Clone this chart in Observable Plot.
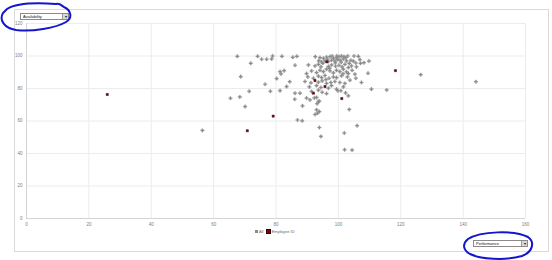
<!DOCTYPE html>
<html>
<head>
<meta charset="utf-8">
<script src="https://cdn.jsdelivr.net/npm/d3@7"></script>
<script src="https://cdn.jsdelivr.net/npm/@observablehq/plot@0.6"></script>
<style>
  html, body { margin: 0; padding: 0; background: #fff; }
  #wrap { position: relative; width: 552px; height: 260px; font-family: "Liberation Sans", Arial, sans-serif; }
  #chart svg { display: block; overflow: visible; }
  .dd { position: absolute; height: 5px; border: 1px solid #8a8a8a; background: #fff; font-size: 4px; line-height: 5px; color: #111; padding-left: 2px; box-sizing: content-box; white-space: nowrap; }
  .dd .btn { position: absolute; right: 0; top: 0; width: 5px; height: 5px; background: #d8d8d8; border-left: 1px solid #999; font-size: 4px; line-height: 5px; text-align: center; }
  #legend { position: absolute; left: 255px; top: 229px; font-size: 4px; color: #666; white-space: nowrap; }
  #legend span.sw { display: inline-block; width: 3px; height: 3px; margin-right: 1px; vertical-align: middle; }
  #overlay { position: absolute; left: 0; top: 0; pointer-events: none; }
</style>
</head>
<body>
<div id="wrap">
  <div id="chart"></div>
  <div class="dd" style="left:20px; top:13px; width:45px;">Availability<div class="btn">▾</div></div>
  <div class="dd" style="left:473px; top:240px; width:51px;">Performance<div class="btn">▾</div></div>
  <div id="legend"><span class="sw" style="background:#8a8a8a"></span>All&nbsp;&nbsp;<span class="sw" style="background:#8b0000;border:0.5px solid #300"></span>Employee ID</div>
</div>
<script>
// Tick labels
const xTicks = [0, 20, 40, 60, 80, 100, 120, 140, 160];
const yTicks = [0, 20, 40, 60, 80, 100, 120];

// Series "All": Performance (x) and Availability (y)
const allPerformance = [
  67.6, 74.1, 75.4, 77.0, 78.6, 78.9, 81.9, 71.9, 68.7, 71.4, 65.4, 68.4, 70.1, 56.4,
  81.3, 82.6, 81.6, 80.2, 76.5, 78.2, 81.3, 83.4, 84.4, 86.0, 88.5, 86.9, 88.4, 92.3,
  93.2, 93.9, 93.0, 93.9, 92.5, 93.3, 93.9, 94.4, 103.5, 106.0, 101.9, 102.0, 104.4,
  107.1, 108.2, 109.8, 109.5, 126.4, 144.1, 110.6, 115.5, 85.4, 86.7, 86.1, 86.1, 87.7,
  92.6, 94.1, 95.2, 96.2, 97.3, 98.4, 99.4, 100.2, 101.0, 101.8, 102.4, 103.0, 105.0,
  106.4, 106.9, 93.7, 94.6, 95.7, 96.8, 97.8, 98.9, 99.8, 100.6, 101.6, 102.6, 104.0,
  105.6, 90.4, 92.5, 93.6, 94.4, 96.8, 97.8, 99.1, 100.2, 101.2, 102.1, 103.2, 104.2,
  105.8, 89.8, 91.4, 93.0, 94.1, 95.2, 96.2, 97.3, 98.4, 99.4, 100.5, 101.6, 102.6,
  104.4, 105.3, 90.2, 92.0, 93.6, 94.6, 95.7, 97.0, 98.4, 99.4, 101.0, 102.9, 105.6,
  103.2, 89.3, 91.2, 93.6, 94.8, 96.2, 97.6, 98.9, 100.5, 102.1, 103.7, 107.4, 90.7,
  93.0, 94.4, 96.8, 97.8, 99.4, 101.6, 91.4, 93.6, 94.8, 96.2, 99.8, 100.8, 102.3,
  89.8, 90.9, 93.0, 93.6, 103.2, 96.5, 99.0, 100.9, 97.2, 103.5, 98.0, 99.5, 95.0,
  101.5, 96.0, 104.8
];
const allAvailability = [
  99.8, 99.8, 98.0, 98.0, 98.2, 100, 99.8, 95.5, 87.3, 78.3, 74.0, 74.8, 68.9, 54.2,
  90.4, 91.0, 89.0, 86.1, 82.6, 78.3, 78.7, 81.2, 84.2, 73.4, 69.3, 60.6, 60.1, 74.2,
  70.7, 72.2, 66.9, 65.8, 64.0, 64.8, 56.0, 50.5, 67.1, 57.1, 52.6, 42.3, 42.1,
  95.5, 95.9, 96.9, 89.4, 88.5, 84.2, 79.6, 79.1, 99.2, 99.8, 94.3, 77.1, 77.1,
  99.6, 99.0, 98.6, 99.4, 99.6, 98.6, 99.0, 99.6, 100, 99.6, 99.0, 100, 100,
  99.8, 97.8, 97.0, 96.4, 97.0, 96.6, 97.4, 97.0, 97.8, 97.4, 98.2, 97.0, 97.4,
  95.7, 94.5, 93.9, 94.9, 93.3, 93.5, 94.5, 93.7, 94.3, 93.3, 94.9, 92.9, 93.9,
  93.3, 89.2, 90.8, 89.8, 91.2, 90.4, 91.9, 90.8, 89.6, 91.2, 90.4, 91.9, 90.2,
  91.2, 88.8, 87.1, 86.3, 87.6, 86.7, 88.0, 86.3, 87.1, 86.7, 87.8, 87.1, 86.3,
  89.2, 84.3, 83.5, 83.9, 84.7, 83.1, 83.7, 84.3, 83.7, 83.1, 85.1, 83.7, 81.0,
  81.8, 80.6, 80.2, 81.8, 79.6, 81.0, 78.2, 79.0, 77.7, 76.9, 78.6, 78.6, 77.3,
  74.1, 73.0, 74.5, 72.0, 75.5, 98.0, 95.8, 96.2, 92.4, 95.5, 100, 100, 95.5,
  89.0, 85.5, 96.8
];

// Series "Employee ID"
const empPerformance = [25.9, 70.8, 79.1, 101.1, 118.3, 96.3, 92.5, 95.7, 92.0];
const empAvailability = [76.3, 54.0, 63.0, 73.8, 91.0, 96.4, 84.9, 81.2, 77.1];

const allData = allPerformance.map((p, i) => ({performance: p, availability: allAvailability[i]}));
const empData = empPerformance.map((p, i) => ({performance: p, availability: empAvailability[i]}));

const chart = Plot.plot({
  width: 552,
  height: 260,
  marginLeft: 26,
  marginRight: 27,
  marginTop: 23,
  marginBottom: 42,
  style: {background: "transparent", fontFamily: "Liberation Sans, Arial, sans-serif"},
  x: {domain: [0, 160], label: null},
  y: {domain: [0, 120], label: null},
  marks: [
    Plot.gridX(xTicks, {stroke: "#ececec", strokeOpacity: 1}),
    Plot.gridY(yTicks, {stroke: "#ececec", strokeOpacity: 1}),
    Plot.ruleY([0], {stroke: "#d4d4d4"}),
    Plot.ruleX([0], {stroke: "#d4d4d4"}),
    Plot.axisX(xTicks, {tickSize: 0, tickPadding: 4, fontSize: 4.5, color: "#808080", label: null}),
    Plot.axisY(yTicks, {tickSize: 0, tickPadding: 4, fontSize: 4.5, color: "#808080", label: null}),
    Plot.dot(allData, {x: "performance", y: "availability", symbol: "cross", r: 1.5, fill: "#8a8a8a", stroke: "#a0a0a0", strokeWidth: 0.3}),
    Plot.dot(empData, {x: "performance", y: "availability", symbol: "square", r: 1.2, fill: "#8b0000", stroke: "#2a0000", strokeWidth: 0.5})
  ]
});
document.getElementById("chart").appendChild(chart);

// Outer frame and hand-drawn annotation ellipses
const ns = "http://www.w3.org/2000/svg";
const ov = document.createElementNS(ns, "svg");
ov.setAttribute("id", "overlay");
ov.setAttribute("width", 552);
ov.setAttribute("height", 260);
ov.innerHTML = `
  <rect x="14.5" y="9.5" width="534" height="242" fill="none" stroke="#dadada" stroke-width="1"/>
  <path d="M 7,9 C 18,2 42,3 56,4 C 60,3 62,6 64,7 C 71,10 73,18 66,22 C 56,28 32,32 16,30 C 4,28 -1,20 3,13 Z" fill="none" stroke="#1515cc" stroke-width="2" stroke-linejoin="round"/>
  <path d="M 468,239 C 480,231 515,230 528,237 C 535,242 533,252 522,256 C 505,261 480,259 470,254 C 463,250 462,244 468,239 Z" fill="none" stroke="#1515cc" stroke-width="2" stroke-linejoin="round"/>
`;
document.getElementById("wrap").appendChild(ov);
</script>
</body>
</html>
